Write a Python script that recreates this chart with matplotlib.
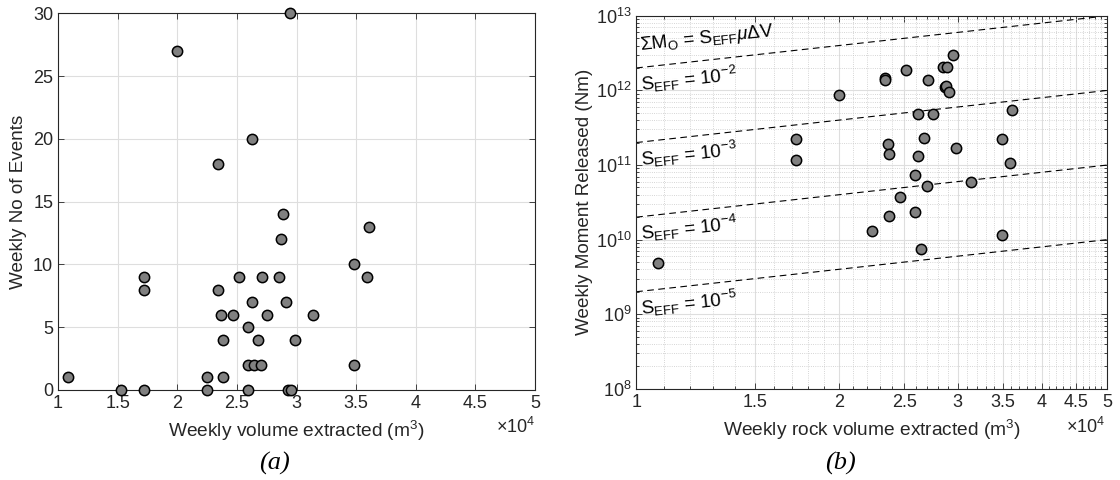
import numpy as np
import matplotlib
matplotlib.use('Agg')
import matplotlib.pyplot as plt
from matplotlib.ticker import FixedLocator, FixedFormatter, LogLocator, LogFormatterMathtext, NullFormatter

plt.rcParams['font.family'] = ['Liberation Sans', 'DejaVu Sans']
plt.rcParams['mathtext.fontset'] = 'custom'
plt.rcParams['mathtext.rm'] = 'Liberation Sans'
plt.rcParams['mathtext.it'] = 'Liberation Sans:italic'
plt.rcParams['mathtext.default'] = 'regular'

# (a) weekly volume (x 1e4 m3) vs weekly number of events
vol_a = [1.087, 1.53, 1.724, 1.724, 1.724, 2.0, 2.247, 2.247, 2.344, 2.344,
         2.364, 2.381, 2.381, 2.47, 2.515, 2.59, 2.59, 2.59, 2.624, 2.624,
         2.644, 2.675, 2.70, 2.71, 2.75, 2.85, 2.87, 2.884, 2.945, 2.912,
         3.138, 2.987, 3.485, 3.485, 3.589, 3.608, 2.93, 2.95]
events = [1, 0, 0, 8, 9, 27, 0, 1, 18, 8,
          6, 4, 1, 6, 9, 5, 2, 0, 20, 7,
          2, 4, 2, 9, 6, 9, 12, 14, 30, 7,
          6, 4, 2, 10, 9, 13, 0, 0]

# (b) weekly rock volume (x 1e4 m3) vs weekly moment released (Nm)
vol_b = [1.077, 1.727, 1.727, 2.0, 2.239, 2.34, 2.34, 2.364, 2.375, 2.375,
         2.466, 2.515, 2.593, 2.596, 2.617, 2.617, 2.644, 2.677, 2.704, 2.709,
         2.754, 2.85, 2.89, 2.873, 2.885, 2.916, 2.95, 2.983, 3.143, 3.485,
         3.485, 3.589, 3.607]
moment = [4.9e9, 2.2e11, 1.16e11, 8.7e11, 1.29e10, 1.49e12, 1.37e12, 1.9e11, 1.4e11, 2.08e10,
          3.68e10, 1.87e12, 7.4e10, 2.31e10, 4.9e11, 1.33e11, 7.6e9, 2.3e11, 5.3e10, 1.4e12,
          4.8e11, 2.03e12, 2.07e12, 1.1e12, 1.15e12, 9.6e11, 3.03e12, 1.69e11, 5.96e10, 2.2e11,
          1.17e10, 1.05e11, 5.5e11]

s_eff = [1e-2, 1e-3, 1e-4, 1e-5]
s_labels = ['-2', '-3', '-4', '-5']
mu = 2e10

xticks = [1, 1.5, 2, 2.5, 3, 3.5, 4, 4.5, 5]
xticklabels = ['1', '1.5', '2', '2.5', '3', '3.5', '4', '4.5', '5']

axcol = '#262626'
fig = plt.figure(figsize=(11.2, 4.8), dpi=100)
ax1 = fig.add_axes([0.0518, 0.1875, 0.4259, 0.7847])
ax2 = fig.add_axes([0.568, 0.190, 0.4207, 0.777])

def style(ax):
    for sp in ax.spines.values():
        sp.set_color(axcol)
        sp.set_linewidth(0.8)
    ax.tick_params(which='both', direction='in', top=True, right=True,
                   colors=axcol, labelsize=13, width=0.6)
    ax.tick_params(which='major', length=4)
    ax.tick_params(which='minor', length=2.5)

# left panel
ax1.scatter(vol_a, events, s=55, c='#808080', edgecolors='k', linewidths=1.1,
            zorder=3, clip_on=False)
ax1.set_xlim(1, 5)
ax1.set_ylim(0, 30)
ax1.xaxis.set_major_locator(FixedLocator(xticks))
ax1.xaxis.set_major_formatter(FixedFormatter(xticklabels))
ax1.set_yticks([0, 5, 10, 15, 20, 25, 30])
ax1.grid(True, color='#dedede', linewidth=0.8)
ax1.set_axisbelow(True)
style(ax1)
ax1.set_xlabel('Weekly volume extracted (m$^3$)', fontsize=13.8, color=axcol, labelpad=5)
ax1.set_ylabel('Weekly No of Events', fontsize=13.6, color=axcol, labelpad=4)

# right panel
ax2.set_xscale('log')
ax2.set_yscale('log')
ax2.set_xlim(1, 5)
ax2.set_ylim(1e8, 1e13)
xx = np.array([1.0, 5.0])
for s, lab in zip(s_eff, s_labels):
    ax2.plot(xx, s * mu * xx * 1e4, color='k', linestyle=(0, (6, 4)), linewidth=0.8, zorder=2)
    ax2.annotate('S$_{EFF}$ = 10$^{%s}$' % lab, xy=(1, s * mu * 1e4), xytext=(3, -12),
                 textcoords='offset points', ha='left', va='center', rotation=6,
                 rotation_mode='anchor', fontsize=13.5, color='k')
ax2.annotate(r'$\Sigma$M$_O$ = S$_{EFF}$$\mathit{\mu}$$\Delta$V', xy=(1, s_eff[0] * mu * 1e4),
             xytext=(3, 16), textcoords='offset points', ha='left', va='center',
             rotation=6, rotation_mode='anchor', fontsize=13.5, color='k')
ax2.scatter(vol_b, moment, s=55, c='#808080', edgecolors='k', linewidths=1.1,
            zorder=3, clip_on=False)
ax2.xaxis.set_major_locator(FixedLocator(xticks))
ax2.xaxis.set_major_formatter(FixedFormatter(xticklabels))
ax2.xaxis.set_minor_locator(FixedLocator(np.arange(1.1, 5.0, 0.1)))
ax2.xaxis.set_minor_formatter(NullFormatter())
ax2.yaxis.set_major_locator(LogLocator(base=10, numticks=10))
ax2.yaxis.set_major_formatter(LogFormatterMathtext())
ax2.yaxis.set_minor_locator(LogLocator(base=10, subs=np.arange(2, 10), numticks=20))
ax2.yaxis.set_minor_formatter(NullFormatter())
ax2.grid(True, which='major', color='#dedede', linewidth=0.8)
ax2.grid(True, which='minor', color='#c8c8c8', linewidth=0.6, linestyle=':')
ax2.set_axisbelow(True)
style(ax2)
ax2.set_xlabel('Weekly rock volume extracted (m$^3$)', fontsize=13.8, color=axcol, labelpad=5)
ax2.set_ylabel('Weekly Moment Released (Nm)', fontsize=13.6, color=axcol, labelpad=2)

fig.text(0.46, 0.11, r'$\times10^4$', fontsize=13, color=axcol, ha='center', va='center')
fig.text(0.969, 0.11, r'$\times10^4$', fontsize=13, color=axcol, ha='center', va='center')

fig.text(0.245, 0.035, '(a)', fontsize=19, family='Liberation Serif', style='italic', ha='center', va='center')
fig.text(0.75, 0.035, '(b)', fontsize=19, family='Liberation Serif', style='italic', ha='center', va='center')

fig.savefig('out.png', dpi=100)
